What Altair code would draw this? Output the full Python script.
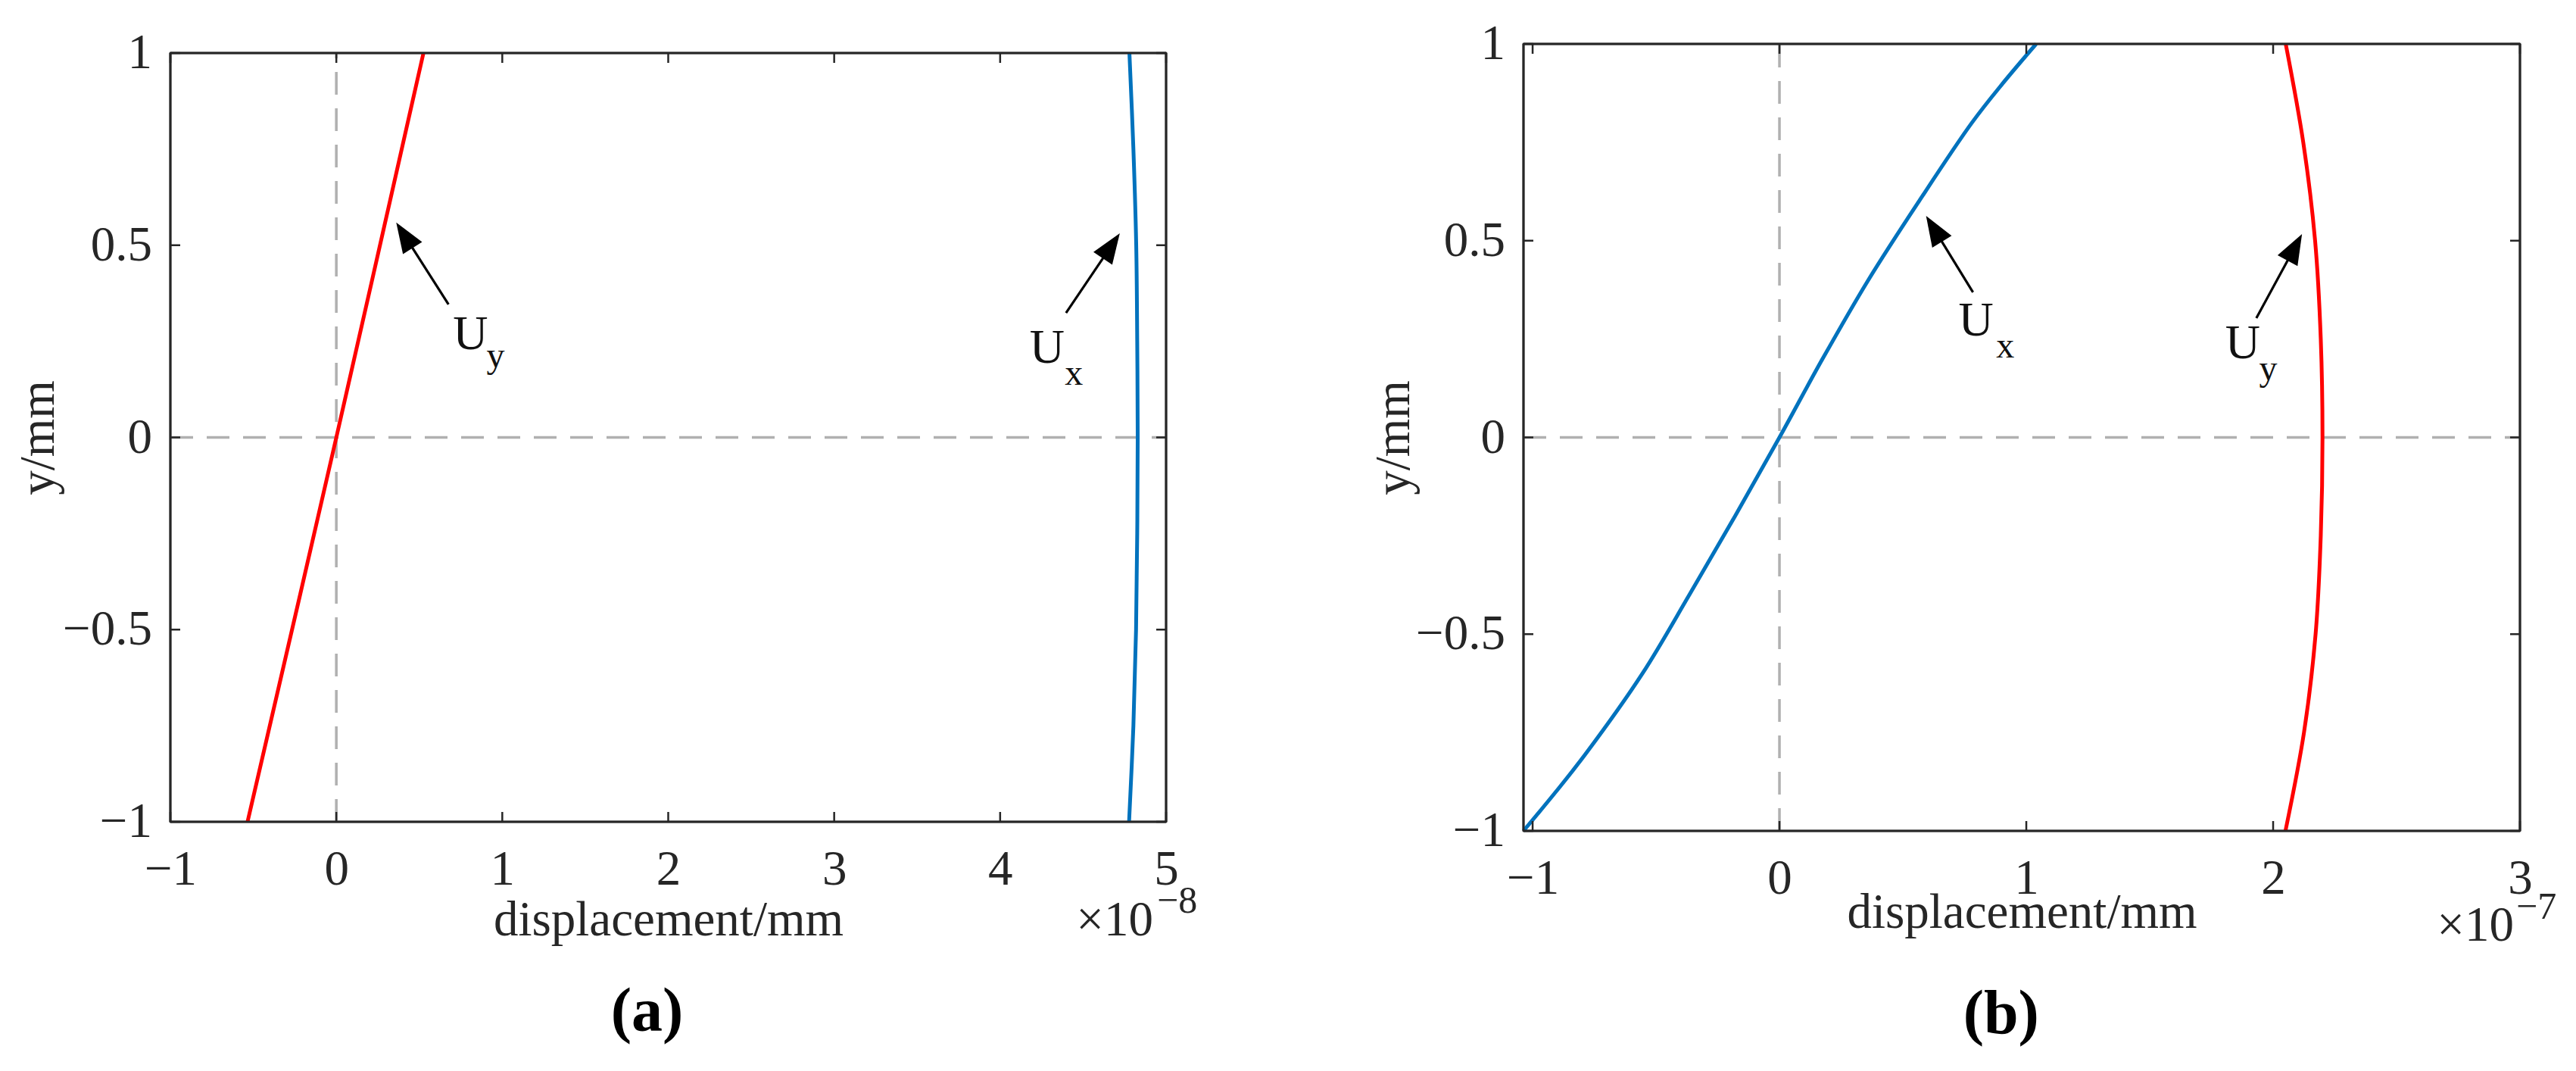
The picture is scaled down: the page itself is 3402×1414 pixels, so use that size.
import math
import altair as alt
import pandas as pd

FONT = "Liberation Serif"
INK = "#262626"
RED = "#ff0000"
BLUE = "#0072bd"
DASH = "#b0b0b0"
FS = 65  # tick label / axis title size

# ---------------- data ----------------
# panel (a): displacement in units of 1e-8 mm
A_XDOM = [-1.0, 5.0]
A_XTICKS = [-1, 0, 1, 2, 3, 4, 5]
A_UY_Y = [-1.0, 0.0, 1.0]
A_UY_X = [-0.535, 0.0, 0.525]
A_UX_Y = [-1.0, -0.75, -0.5, -0.25, 0.0, 0.25, 0.5, 0.75, 1.0]
A_UX_X = [4.777, 4.803, 4.819, 4.826, 4.829, 4.826, 4.820, 4.803, 4.779]

# panel (b): displacement in units of 1e-7 mm
B_XDOM = [-1.037, 3.0]
B_XTICKS = [-1, 0, 1, 2, 3]
B_UX_Y = [-1.0, -0.9, -0.8, -0.6, -0.4, -0.2, 0.0, 0.2, 0.4, 0.6, 0.8, 0.9, 1.0]
B_UX_X = [-1.037, -0.905, -0.78, -0.555, -0.365, -0.18, 0.0, 0.175, 0.36, 0.565, 0.78, 0.905, 1.04]
B_UY_Y = [-1.0, -0.75, -0.5, -0.25, 0.0, 0.25, 0.5, 0.75, 1.0]
B_UY_X = [2.050, 2.125, 2.172, 2.193, 2.200, 2.193, 2.170, 2.122, 2.051]

Y_TICKS = [-1, -0.5, 0, 0.5, 1]

# annotations: (tail_x, tail_y, tip_x, tip_y)
A_ARROWS = [(0.676, 0.346, 0.361, 0.559), (4.397, 0.324, 4.721, 0.531)]
A_LABELS = [(0.808, 0.2305, "U", "y", 0.960, 0.182), (4.283, 0.195, "U", "x", 4.445, 0.137)]
B_ARROWS = [(0.784, 0.369, 0.594, 0.563), (1.932, 0.303, 2.117, 0.517)]
B_LABELS = [(0.796, 0.259, "U", "x", 0.915, 0.203), (1.877, 0.202, "U", "y", 1.980, 0.145)]


def panel(W, H, xdom, xticks, curves, arrows, labels, exp_txt, exp_pos, letter, letter_x,
          letter_y, xlab_pad, xtitle_y, ytitle_x):
    xs = alt.Scale(domain=xdom, nice=False, zero=False)
    ys = alt.Scale(domain=[-1, 1], nice=False, zero=False)
    xaxis = alt.Axis(values=xticks, title="displacement/mm", labelFont=FONT, labelFontSize=FS,
                     labelColor=INK, labelPadding=xlab_pad, ticks=False, domain=False, grid=False,
                     labelFlush=False, labelOverlap=False, labelExpr="format(datum.value, '~g')",
                     titleFont=FONT, titleFontSize=FS, titleFontWeight="normal", titleColor=INK,
                     titleBaseline="alphabetic", titleY=xtitle_y)
    yaxis = alt.Axis(values=Y_TICKS, title="y/mm", labels=False, ticks=False, domain=False, grid=False,
                     titleFont=FONT, titleFontSize=FS, titleFontWeight="normal", titleColor=INK,
                     titleBaseline="alphabetic", titleX=ytitle_x)

    def X(f="x:Q"):
        return alt.X(f, scale=xs, axis=xaxis)

    def Y(f="y:Q"):
        return alt.Y(f, scale=ys, axis=yaxis)

    layers = []
    # dashed reference lines
    vdf = pd.DataFrame({"x": [0.0], "y": [-1.0], "y2": [1.0]})
    hdf = pd.DataFrame({"x": [xdom[0]], "x2": [xdom[1]], "y": [0.0]})
    layers.append(alt.Chart(vdf).mark_rule(color=DASH, strokeWidth=3.5, strokeDash=[30, 18]).encode(
        x=X(), y=Y(), y2="y2:Q"))
    layers.append(alt.Chart(hdf).mark_rule(color=DASH, strokeWidth=3.5, strokeDash=[30, 18]).encode(
        x=X(), x2="x2:Q", y=Y()))

    # curves
    for cx, cy, col in curves:
        cdf = pd.DataFrame({"x": cx, "y": cy, "o": list(range(len(cx)))})
        layers.append(alt.Chart(cdf).mark_line(color=col, strokeWidth=5, interpolate="catmull-rom").encode(
            x=X(), y=Y(), order="o:Q"))

    # axes box (four sides)
    one = pd.DataFrame({"k": [0]})
    bs = dict(color=INK, strokeWidth=3)
    layers.append(alt.Chart(one).mark_rule(**bs).encode(
        x=alt.value(0), y=alt.value(0), y2=alt.value(H)))
    layers.append(alt.Chart(one).mark_rule(**bs).encode(
        x=alt.value(W), y=alt.value(0), y2=alt.value(H)))
    layers.append(alt.Chart(one).mark_rule(**bs).encode(
        y=alt.value(0), x=alt.value(0), x2=alt.value(W)))
    layers.append(alt.Chart(one).mark_rule(**bs).encode(
        y=alt.value(H), x=alt.value(0), x2=alt.value(W)))

    # inside tick marks on all four sides
    tl = 13
    xt = pd.DataFrame({"x": xticks})
    yt = pd.DataFrame({"y": Y_TICKS})
    tick_style = dict(color=INK, strokeWidth=2.5)
    layers.append(alt.Chart(xt).mark_rule(**tick_style).encode(
        x=X(), y=alt.value(H), y2=alt.value(H - tl)))
    layers.append(alt.Chart(xt).mark_rule(**tick_style).encode(
        x=X(), y=alt.value(0), y2=alt.value(tl)))
    layers.append(alt.Chart(yt).mark_rule(**tick_style).encode(
        y=Y(), x=alt.value(0), x2=alt.value(tl)))
    layers.append(alt.Chart(yt).mark_rule(**tick_style).encode(
        y=Y(), x=alt.value(W), x2=alt.value(W - tl)))

    # y tick labels
    layers.append(alt.Chart(yt).mark_text(font=FONT, fontSize=FS, color=INK, align="right",
                                          baseline="middle").encode(
        y=Y(), x=alt.value(-24), text=alt.Text("y:Q", format="~g")))

    # arrows
    ppx = W / (xdom[1] - xdom[0])
    ppy = H / 2.0
    head = 40.0
    rows_s, rows_h = [], []
    for tx, ty, hx, hy in arrows:
        dx = (hx - tx) * ppx
        dy = (hy - ty) * ppy
        L = math.hypot(dx, dy)
        ang = math.degrees(math.atan2(dx, dy)) % 360
        ex = hx - (dx / L) * head * 0.5 / ppx
        ey = hy - (dy / L) * head * 0.5 / ppy
        rows_s.append({"x": tx, "y": ty, "x2": ex, "y2": ey})
        rows_h.append({"x": hx, "y": hy, "a": ang})
    layers.append(alt.Chart(pd.DataFrame(rows_s)).mark_rule(color="black", strokeWidth=3.2).encode(
        x=X(), y=Y(), x2="x2:Q", y2="y2:Q"))
    layers.append(alt.Chart(pd.DataFrame(rows_h)).mark_point(
        shape="M0,0 L-0.75,2 L0.75,2 Z", filled=True, color="black", opacity=1, size=head * head,
        strokeWidth=0).encode(
        x=X(), y=Y(), angle=alt.Angle("a:Q", scale=None)))

    # curve labels
    main = pd.DataFrame({"x": [l[0] for l in labels], "y": [l[1] for l in labels], "t": [l[2] for l in labels]})
    sub = pd.DataFrame({"x": [l[4] for l in labels], "y": [l[5] for l in labels], "t": [l[3] for l in labels]})
    layers.append(alt.Chart(main).mark_text(font=FONT, fontSize=64, color="#111111", align="center",
                                            baseline="alphabetic").encode(
        x=X(), y=Y(), text="t:N"))
    layers.append(alt.Chart(sub).mark_text(font=FONT, fontSize=48, color="#111111", align="center",
                                           baseline="alphabetic").encode(
        x=X(), y=Y(), text="t:N"))

    # exponent label  (x10^-n)
    ex_df = pd.DataFrame({"x": [xdom[1]], "t": ["\u00d710"]})
    sup_df = pd.DataFrame({"x": [xdom[1]], "t": [exp_txt]})
    b1, dx1, b2, dx2 = exp_pos
    layers.append(alt.Chart(ex_df).mark_text(font=FONT, fontSize=FS, color=INK, align="right",
                                             baseline="alphabetic", dx=dx1).encode(
        x=X(), y=alt.value(b1), text="t:N"))
    layers.append(alt.Chart(sup_df).mark_text(font=FONT, fontSize=50, color=INK, align="left",
                                              baseline="alphabetic", dx=dx2).encode(
        x=X(), y=alt.value(b2), text="t:N"))

    # panel letter
    let_df = pd.DataFrame({"x": [letter_x], "t": [letter]})
    layers.append(alt.Chart(let_df).mark_text(font=FONT, fontSize=82, fontWeight="bold", color="black",
                                              align="center", baseline="middle").encode(
        x=X(), y=alt.value(letter_y), text="t:N"))

    return alt.layer(*layers).properties(width=W, height=H)


pa = panel(1315, 1015, A_XDOM, A_XTICKS,
           [(A_UY_X, A_UY_Y, RED), (A_UX_X, A_UX_Y, BLUE)],
           A_ARROWS, A_LABELS, "\u22128", (1165, -17, 1135, -12), "(a)", 1.872, 1266,
           31, 149.5, -155)
pb = panel(1316, 1039, B_XDOM, B_XTICKS,
           [(B_UX_X, B_UX_Y, BLUE), (B_UY_X, B_UY_Y, RED)],
           B_ARROWS, B_LABELS, "\u22127", (1184, -8, 1155, -5), "(b)", 0.898, 1281,
           31, 127, -152)

chart = alt.hconcat(pa, pb, spacing=472, bounds="flush", center=True).properties(
    padding={"left": 8, "top": 16, "right": 5, "bottom": 5}
).configure_view(stroke=INK, strokeWidth=2.6, fill="white")

chart.save("out.html", embed_options={"renderer": "svg", "actions": False})
